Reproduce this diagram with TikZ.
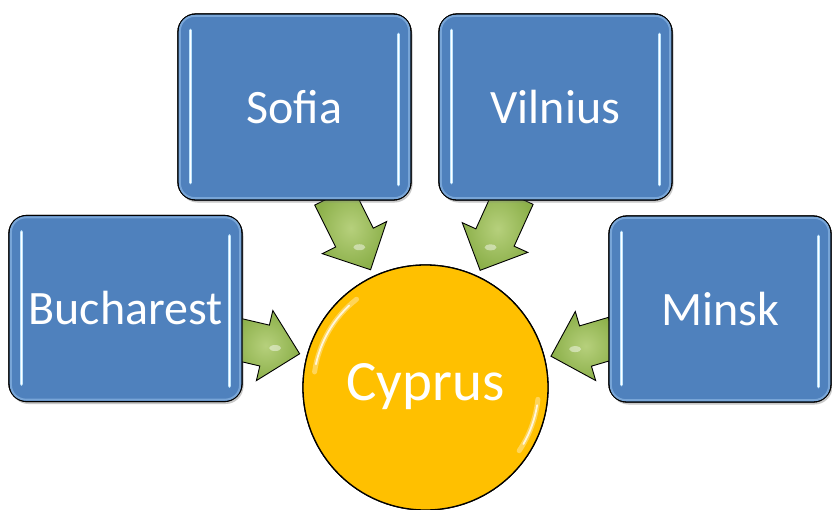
\documentclass[tikz,border=0pt]{standalone}
\usepackage{fontspec}
\setmainfont{Carlito}
\usetikzlibrary{calc,shadows}

\definecolor{boxblue}{RGB}{79,129,189}
\definecolor{boxrim}{RGB}{120,165,215}
\definecolor{glint}{RGB}{190,228,252}
\definecolor{sunfill}{RGB}{255,192,0}
\definecolor{arrowin}{RGB}{182,208,124}
\definecolor{arrowout}{RGB}{140,176,74}

\tikzset{
  citybox/.style={draw=black, line width=1.3pt, fill=boxblue, rounded corners=18pt,
    minimum width=233pt, minimum height=186pt, text=white,
    font=\fontsize{48}{52}\selectfont,
    drop shadow={shadow xshift=1.5pt, shadow yshift=-2.5pt, opacity=0.25}},
  hubcircle/.style={circle, draw=black, line width=1.3pt, fill=sunfill,
    minimum size=245pt, inner sep=0pt},
  flowarrow/.style={draw=black, line width=0.9pt, inner color=arrowin, outer color=arrowout},
  glintline/.style={glint, line width=3.5pt, line cap=round},
  glintcore/.style={white, line width=1.2pt, line cap=round},
}

% block arrow from #1 to #2: body half-width 21, head half-width 36, head length 36
\newcommand\blockarrow[2]{%
  \coordinate (hb) at ($(#2)!36pt!(#1)$);
  \path[flowarrow]
    ($(#1)!21pt!90:(#2)$) -- ($(hb)!21pt!90:(#2)$) -- ($(hb)!36pt!90:(#2)$)
    -- (#2) -- ($(hb)!36pt!-90:(#2)$) -- ($(hb)!21pt!-90:(#2)$)
    -- ($(#1)!21pt!-90:(#2)$) -- cycle;
  \fill[white, opacity=0.45] ($(hb)!0.3!(#2)$) ellipse (6pt and 3pt);
}

% glossy vertical streaks inside a box
\newcommand\boxglint[1]{%
  \draw[boxrim, line width=2pt, rounded corners=15pt]
    ($(#1.south west)+(2.5,-2.5)$) rectangle ($(#1.north east)+(-2.5,2.5)$);
  \draw[glintline] ($(#1.north west)+(13,17)$) -- ($(#1.south west)+(13,-18)$);
  \draw[glintcore] ($(#1.north west)+(13,17)$) -- ($(#1.south west)+(13,-18)$);
  \draw[glintline] ($(#1.north east)+(-13,21)$) -- ($(#1.south east)+(-13,-16)$);
  \draw[glintcore] ($(#1.north east)+(-13,21)$) -- ($(#1.south east)+(-13,-16)$);
}

\begin{document}
\begin{tikzpicture}[x=1pt, y=-1pt]
\useasboundingbox (0,0) rectangle (832,509);
\fill[white] (0,0) rectangle (832,509);

% boxes and hub
\node[citybox] (sofia) at (294.5,107) {Sofia};
\node[citybox] (vilnius) at (555.5,107) {Vilnius};
\node[citybox] (bucharest) at (125.5,308.5) {Bucharest};
\node[citybox, minimum width=222pt] (minsk) at (720,309) {Minsk};
\node[hubcircle] (cyprus) at (425.5,387.5) {};

% arrow end points
\coordinate (sofiaOut) at ($(sofia.south)+(39,-5)$);
\coordinate (vilniusOut) at ($(vilnius.south)+(-41.5,-5)$);
\coordinate (bucharestOut) at ($(bucharest.east)+(-6,30.5)$);
\coordinate (minskOut) at ($(minsk.west)+(6,28.5)$);
\coordinate (sofiaIn) at ($(cyprus.center)!1.055!(cyprus.115)$);
\coordinate (vilniusIn) at ($(cyprus.center)!1.05!(cyprus.65)$);
\coordinate (bucharestIn) at ($(cyprus.center)!1.058!(cyprus.165.5)$);
\coordinate (minskIn) at ($(cyprus.center)!1.05!(cyprus.14.6)$);

% arrows, drawn under the boxes
\blockarrow{sofiaOut}{sofiaIn}
\blockarrow{vilniusOut}{vilniusIn}
\blockarrow{bucharestOut}{bucharestIn}
\blockarrow{minskOut}{minskIn}

% boxes again on top of the arrow tails
\node[citybox] at (sofia) {Sofia};
\node[citybox] at (vilnius) {Vilnius};
\node[citybox] at (bucharest) {Bucharest};
\node[citybox, minimum width=222pt] at (minsk) {Minsk};
\boxglint{sofia}
\boxglint{vilnius}
\boxglint{bucharest}
\boxglint{minsk}

% hub with glossy rims (y axis points down, so angles run clockwise)
\node[hubcircle] at (cyprus) {};
\draw[white, opacity=0.35, line width=5pt, line cap=round]
  ($(cyprus.center)+(188:112)$) arc[start angle=188, end angle=232, radius=112];
\draw[white, opacity=0.8, line width=1.8pt, line cap=round]
  ($(cyprus.center)+(192:112)$) arc[start angle=192, end angle=227, radius=112];
\draw[white, opacity=0.35, line width=5pt, line cap=round]
  ($(cyprus.center)+(6:113)$) arc[start angle=6, end angle=34, radius=113];
\draw[white, opacity=0.8, line width=1.8pt, line cap=round]
  ($(cyprus.center)+(9:113)$) arc[start angle=9, end angle=30, radius=113];
\node[text=white, font=\fontsize{57}{60}\selectfont] (cyprusLabel) at ($(cyprus.center)+(0,-1)$) {Cyprus};
\end{tikzpicture}
\end{document}
